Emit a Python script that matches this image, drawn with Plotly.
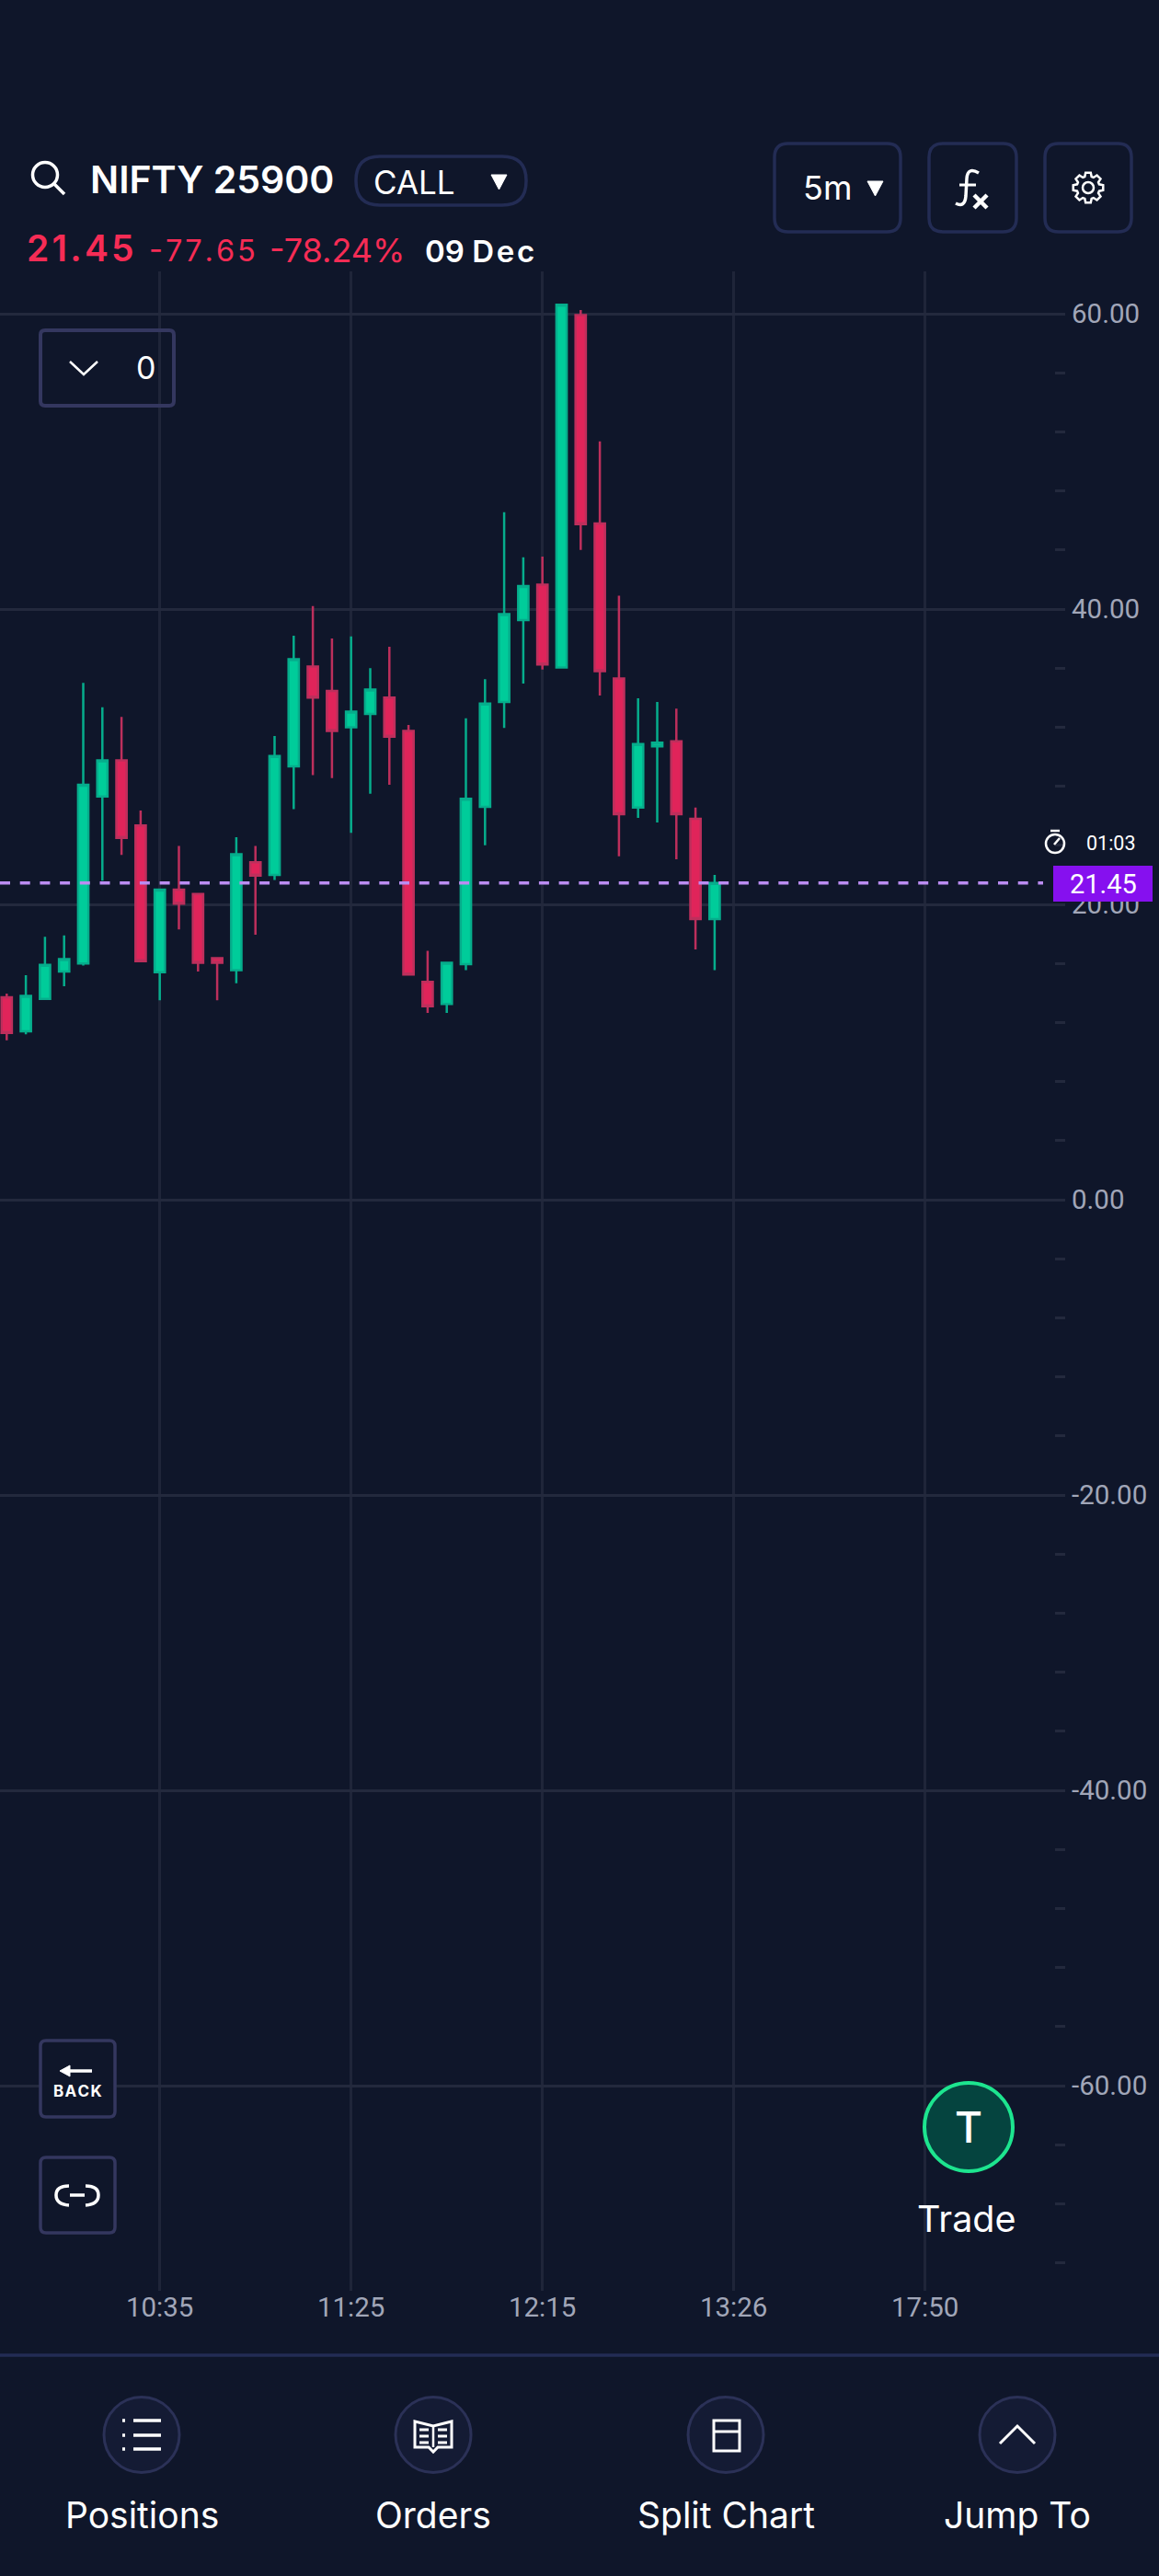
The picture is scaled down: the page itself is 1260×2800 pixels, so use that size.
import math
import plotly.graph_objects as go

# ---- chart data (5 minute candles) ----
candle_index = list(range(38))
opens = [13.7, 11.4, 13.6, 15.45, 16.0, 27.3, 29.75, 25.35, 15.4, 21.0, 20.7, 16.35, 15.55, 22.85, 22.0, 29.35, 36.1, 34.45, 32.0, 32.9,
         34.0, 31.75, 14.75, 13.25, 15.95, 26.6, 33.7, 39.25, 41.65, 36.05, 59.9, 45.8, 35.3, 26.55, 30.7, 31.05, 25.8, 19.0]
closes = [11.3, 13.8, 15.9, 16.3, 28.1, 29.75, 24.5, 16.15, 21.0, 20.05, 16.05, 16.05, 23.4, 21.95, 30.05, 36.6, 34.0, 31.75, 33.05, 34.55,
          31.35, 15.25, 13.1, 16.05, 27.15, 33.6, 39.65, 41.55, 36.25, 60.6, 45.75, 35.8, 26.1, 30.85, 30.95, 26.1, 19.0, 21.45]
highs = [13.95, 15.2, 17.8, 17.9, 35.0, 33.35, 32.7, 26.35, 21.0, 23.95, 20.7, 16.35, 24.55, 23.95, 31.4, 38.2, 40.2, 38.0, 38.15, 36.0,
         37.45, 32.15, 16.85, 16.1, 32.6, 35.25, 46.55, 43.5, 43.55, 60.6, 60.25, 51.35, 40.9, 33.95, 33.7, 33.25, 26.55, 22.0]
lows = [10.8, 11.2, 13.55, 14.45, 15.85, 21.6, 23.35, 16.1, 13.5, 18.3, 15.45, 13.5, 14.65, 17.95, 21.65, 26.45, 28.75, 28.55, 24.85, 27.5,
        28.1, 15.25, 12.65, 12.65, 15.55, 24.0, 31.95, 34.95, 35.9, 36.05, 44.0, 34.15, 23.25, 25.85, 25.55, 23.05, 16.95, 15.55]
time_tick_index = [8, 18, 28, 38, 48]
time_tick_labels = ["10:35", "11:25", "12:15", "13:26", "17:50"]
price_ticks = [60, 40, 20, 0, -20, -40, -60]
price_tick_labels = ["60.00", "40.00", "20.00", "0.00", "-20.00", "-40.00", "-60.00"]
last_price = 21.45
nav_labels = ["Positions", "Orders", "Split Chart", "Jump To"]

# ---- palette ----
BG = "#0f162a"
GRID_V = "#1f2539"
GRID_H = "#23293d"
BORDER = "#232c54"
BTN = "#34375f"
GREEN = "#00cc9a"
GREEN_W = "#06ad8c"
RED = "#e0245a"
RED_W = "#bd2f5c"
HEAD_RED = "#f62c55"
AXIS_TXT = "#a1a6b8"
WHITE = "#ffffff"
W, H = 1260, 2800
PLOT_R, PLOT_T, PLOT_B = 1158, 295, 2490
HS = "\u200a"


def X(p):
    return p / W


def Y(p):
    return 1 - p / H


shapes, annos = [], []


def path(d, color=WHITE, width=3, fill=None, layer="above"):
    shapes.append(dict(type="path", xref="paper", yref="paper", path=d, layer=layer,
                       line=dict(color=color, width=width), fillcolor=fill or "rgba(0,0,0,0)"))


def poly(points, closed=False):
    d = "M" + " L".join(f"{X(x):.5f},{Y(y):.5f}" for x, y in points)
    return d + (" Z" if closed else "")


def curve(*segs):
    d = f"M{X(segs[0][0]):.5f},{Y(segs[0][1]):.5f}"
    for s in segs[1:]:
        if len(s) == 2:
            d += f" L{X(s[0]):.5f},{Y(s[1]):.5f}"
        else:
            d += f" Q{X(s[0]):.5f},{Y(s[1]):.5f} {X(s[2]):.5f},{Y(s[3]):.5f}"
    return d


def line(points, color=WHITE, width=3):
    path(poly(points), color, width)


def rrect(x0, y0, x1, y1, r, color=BORDER, width=3.5, fill=None):
    d = curve((x0 + r, y0), (x1 - r, y0), (x1, y0, x1, y0 + r), (x1, y1 - r), (x1, y1, x1 - r, y1),
              (x0 + r, y1), (x0, y1, x0, y1 - r), (x0, y0 + r), (x0, y0, x0 + r, y0))
    path(d + " Z", color, width, fill)


def circle(cx, cy, r, color=WHITE, width=3, fill=None):
    shapes.append(dict(type="circle", xref="paper", yref="paper", x0=X(cx - r), x1=X(cx + r),
                       y0=Y(cy + r), y1=Y(cy - r), line=dict(color=color, width=width),
                       fillcolor=fill or "rgba(0,0,0,0)"))


def text(x, y, s, size, color=WHITE, weight=400, anchor="center", family="Inter"):
    annos.append(dict(xref="paper", yref="paper", x=X(x), y=Y(y), text=s, showarrow=False,
                      xanchor=anchor, yanchor="middle", borderpad=0,
                      font=dict(family=family, size=size, color=color, weight=weight)))


# ---- header ----
circle(49, 190, 13.5, WHITE, 3.5)
line([(59, 200), (70, 211)], WHITE, 3.5)
text(97, 195, "NIFTY 25900", 41, WHITE, 600, "left")
rrect(387, 170, 572, 223, 26)
text(405, 198, "CALL", 35, WHITE, 400, "left")
path(poly([(534, 190), (551, 190), (542.5, 206)], True), WHITE, 1, WHITE)
text(28, 269, HS.join("21.45"), 39, HEAD_RED, 600, "left")
text(161, 272, HS.join("-77.65"), 32.5, HEAD_RED, 400, "left")
text(292, 272, "-78.24%", 36, HEAD_RED, 400, "left")
text(461, 273, "09" + " " + HS.join("Dec"), 33, WHITE, 600, "left")

rrect(842, 156, 979, 252, 15)
text(899, 204, "5m", 36, WHITE, 400)
path(poly([(943, 197), (960, 197), (951.5, 213)], True), WHITE, 1, WHITE)
rrect(1010, 156, 1105, 252, 15)
path(curve((1064, 188), (1052, 181, 1051, 194), (1050, 213), (1049, 226, 1039, 221)), WHITE, 3.5)
line([(1043, 201), (1061, 201)], WHITE, 3)
line([(1059, 212), (1073, 226)], WHITE, 4.5)
line([(1073, 212), (1059, 226)], WHITE, 4.5)
rrect(1136, 156, 1230, 252, 15)
gear = []
for i in range(8):
    a = i * math.pi / 4 - math.pi / 2
    for da, r in [(-0.30, 12.5), (-0.17, 16.5), (0.17, 16.5), (0.30, 12.5)]:
        gear.append((1183 + r * math.cos(a + da), 204 + r * math.sin(a + da)))
path(poly(gear, True), WHITE, 2.5)
circle(1183, 204, 6, WHITE, 2.5)

# ---- filter box ----
rrect(44, 359, 189, 441, 5, BTN, 4)
line([(76, 393), (91, 407), (106, 393)], WHITE, 2.5)
text(158, 400, "0", 34, WHITE, 400)

# ---- last price marker ----
shapes.append(dict(type="line", xref="paper", yref="y", x0=0, x1=X(1134), y0=last_price, y1=last_price,
                   layer="above", line=dict(color="#bb8cf2", width=3.5, dash="11px,10.7px")))
shapes.append(dict(type="rect", xref="paper", yref="paper", x0=X(1145), x1=X(1253), y0=Y(980), y1=Y(941),
                   line=dict(width=0), fillcolor="#8610ef"))
text(1199, 961, f"{last_price:.2f}", 29, WHITE, 400, "center", "Roboto")
circle(1147, 917, 10, WHITE, 2.5)
line([(1142, 903), (1152, 903)], WHITE, 2.5)
line([(1146, 918), (1152, 911)], WHITE, 2.5)
text(1208, 916, "01:03", 21.5, WHITE, 400, "center", "Roboto")

# ---- left tool buttons ----
rrect(44, 2218, 125, 2301, 6, BTN, 3.5, BG)
line([(72, 2251), (100, 2251)], WHITE, 3.5)
path(poly([(65, 2251), (76, 2245), (76, 2257)], True), WHITE, 1, WHITE)
text(84.5, 2273, HS.join("BACK"), 17, WHITE, 700)
rrect(44, 2345, 125, 2427, 6, BTN, 3.5, BG)
path(curve((75, 2376), (61, 2376, 61, 2386), (61, 2396, 75, 2397)), WHITE, 3.5)
path(curve((93, 2376), (107, 2376, 107, 2386), (107, 2396, 93, 2397)), WHITE, 3.5)
line([(76, 2386), (92, 2386)], WHITE, 3.5)

# ---- trade button ----
circle(1053, 2312, 48, "#1de58f", 4, "#05443f")
text(1053, 2312, "T", 46, WHITE, 500)
text(1051, 2412, "Trade", 39.5, WHITE, 400)

# ---- bottom bar ----
shapes.append(dict(type="line", xref="paper", yref="paper", x0=0, x1=1, y0=Y(2560), y1=Y(2560),
                   line=dict(color=BORDER, width=3.5)))
for cx, lab in zip([154, 471, 789, 1106], nav_labels):
    circle(cx, 2646.5, 41, "#2b3157", 3, "#141b34")
    text(cx, 2733, lab, 39, WHITE, 400)
for yy in (2631, 2647, 2662):
    line([(145, yy), (175, yy)], WHITE, 3.5)
    line([(133, yy), (136, yy)], WHITE, 3.5)
path(poly([(451, 2632), (471, 2637), (491, 2632), (491, 2660), (476, 2660), (471, 2665), (466, 2660), (451, 2660)], True), WHITE, 3)
line([(471, 2637), (471, 2660)], WHITE, 2.5)
for yy in (2641, 2648, 2655):
    line([(456, yy), (466, yy)], WHITE, 3)
    line([(476, yy), (486, yy)], WHITE, 3)
path(poly([(776, 2631), (804, 2631), (804, 2664), (776, 2664)], True), WHITE, 3)
line([(776, 2643), (804, 2643)], WHITE, 3)
line([(1087, 2656), (1106, 2637), (1125, 2656)], WHITE, 3)

# ---- figure ----
fig = go.Figure(go.Candlestick(
    x=candle_index, open=opens, high=highs, low=lows, close=closes, whiskerwidth=0,
    increasing=dict(line=dict(color=GREEN_W, width=2.5), fillcolor=GREEN),
    decreasing=dict(line=dict(color=RED_W, width=2.5), fillcolor=RED),
    hoverinfo="skip", showlegend=False,
))
fig.update_layout(
    width=W, height=H, margin=dict(l=0, r=0, t=0, b=0), paper_bgcolor=BG, plot_bgcolor=BG,
    showlegend=False, boxmode="overlay", boxgap=0.3, boxgroupgap=0.23, shapes=shapes, annotations=annos,
    font=dict(family="Roboto", color=AXIS_TXT),
    xaxis=dict(domain=[0, PLOT_R / W], range=[-0.351, (PLOT_R - 7.3) / 20.8], rangeslider=dict(visible=False),
               tickmode="array", tickvals=time_tick_index, ticktext=time_tick_labels, showgrid=True,
               gridcolor=GRID_V, gridwidth=3, zeroline=False, showline=False, ticks="",
               ticklabelstandoff=-3, tickfont=dict(family="Roboto", size=29.5, color=AXIS_TXT)),
    yaxis=dict(domain=[1 - PLOT_B / H, 1 - PLOT_T / H], range=[(1304 - PLOT_B) / 16.05, (1304 - PLOT_T) / 16.05],
               side="right", tickmode="array", tickvals=price_ticks, ticktext=price_tick_labels, showgrid=True,
               gridcolor=GRID_H, gridwidth=2.5, zeroline=False, showline=False, ticks="",
               ticklabelstandoff=6, tickfont=dict(family="Roboto", size=29.5, color=AXIS_TXT),
               minor=dict(dtick=4, tick0=0, ticks="inside", ticklen=11, tickwidth=3, tickcolor=GRID_H, showgrid=False)),
)
fig.write_html("out.html", config=dict(displayModeBar=False),
               post_script="document.body.style.margin='0';document.body.style.background='" + BG + "';")
